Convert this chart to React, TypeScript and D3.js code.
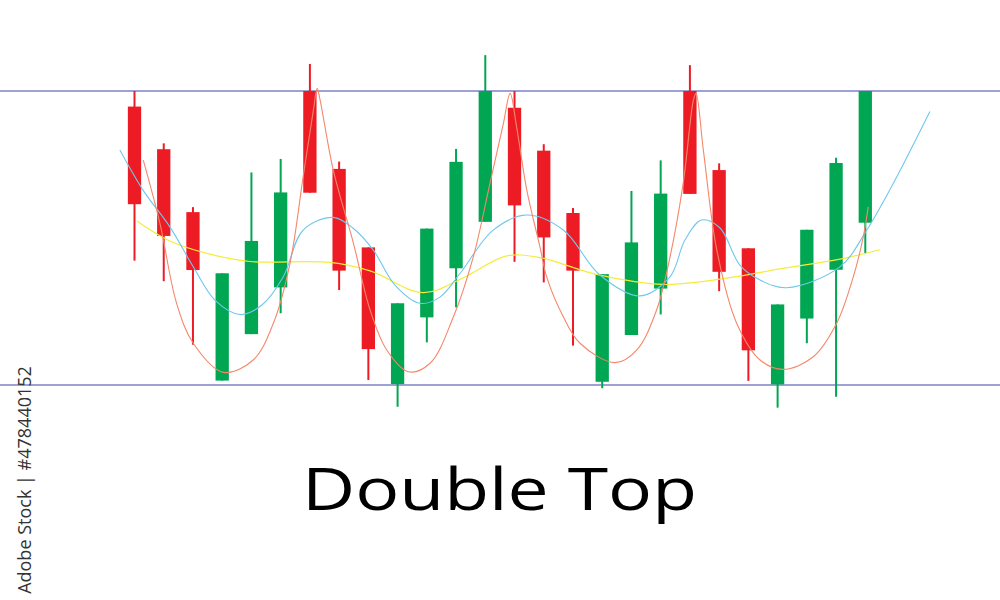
import React from "react";
import * as d3 from "d3";

const W = 1000;
const H = 600;

// Candle data (price units), index = position along the x axis
const opens = [144.7, 130.2, 108.8, 51.5, 67.3, 83.2, 150, 123.5, 96.8, 50.3, 73.0, 89.7, 105.5, 144.3, 129.7, 108.5, 51.1, 67.0, 82.8, 150, 123.1, 96.5, 50.2, 72.6, 89.2, 105.2];
const highs = [150, 132.2, 110.5, 88.0, 122.3, 126.9, 159.2, 126.0, 96.8, 77.8, 103.2, 130.3, 162.2, 150, 131.9, 110.2, 87.7, 116.0, 126.4, 158.8, 125.4, 96.5, 77.4, 102.8, 127.3, 150];
const lows = [92.3, 85.3, 63.7, 51.5, 67.3, 74.4, 115.4, 82.3, 51.7, 42.6, 64.5, 76.4, 105.5, 91.9, 84.9, 63.4, 48.9, 67.0, 74.0, 115.0, 81.9, 51.4, 42.3, 64.2, 46.0, 94.8];
const closes = [111.5, 100.7, 89.1, 88.0, 99.0, 115.5, 115.4, 88.9, 62.2, 77.8, 103.2, 125.9, 150, 111.1, 100.2, 88.9, 87.7, 98.5, 115.1, 115.0, 88.5, 61.8, 77.4, 102.8, 125.5, 150];

// Support / resistance levels
const levels = [150, 50];

// Moving-average style curves: [index position, price]
const orangeCurve: [number, number][] = [
  [0.30, 126.5], [0.87, 105.0], [1.44, 77.8], [2.01, 64.2], [3.04, 54.3], [4.06, 58.5], [4.75, 71.0], [5.32, 91.4], [5.77, 120.9], [6.12, 143.5], [6.25, 150.9],
  [6.35, 146.9], [6.80, 123.1], [7.49, 98.2], [8.06, 75.5], [8.63, 61.9], [9.37, 54.5], [10.11, 57.4], [10.91, 73.2], [11.59, 93.6], [12.16, 118.6], [12.62, 139.0], [12.85, 149.2],
  [13.07, 137.9], [13.42, 116.3], [13.87, 97.0], [14.10, 86.8], [14.67, 73.2], [15.24, 64.2], [16.44, 57.6], [17.18, 61.9], [17.86, 75.5], [18.32, 93.6], [18.77, 118.6], [19.12, 146.9], [19.21, 149.2],
  [19.46, 129.9], [19.92, 95.9], [20.60, 71.0], [21.40, 58.5], [22.19, 55.3], [23.22, 59.6], [24.02, 71.0], [24.59, 86.8], [24.93, 100.4], [25.10, 110.6]
];
const blueCurve: [number, number][] = [
  [-0.50, 129.9], [0.29, 116.3], [1.21, 103.8], [2.01, 90.2], [2.75, 78.9], [3.61, 74.0], [4.36, 77.2], [5.09, 86.8], [5.77, 102.7], [6.80, 107.0],
  [7.47, 103.4], [8.17, 95.9], [8.91, 84.0], [9.77, 77.8], [10.45, 79.9], [11.14, 88.0], [12.27, 102.7], [13.42, 107.8], [14.67, 102.7], [15.92, 87.4],
  [17.29, 80.3], [18.32, 86.8], [18.83, 99.3], [19.40, 106.1], [20.03, 103.4], [20.71, 90.8], [21.40, 85.7], [22.31, 83.1], [24.13, 90.2], [25.05, 102.7], [25.96, 118.6], [27.21, 143.0]
];
const yellowCurve: [number, number][] = [
  [0.08, 105.8], [1.21, 99.0], [2.58, 94.5], [3.95, 92.0], [6.69, 91.7], [8.06, 88.8], [9.88, 81.4], [11.25, 86.5], [12.73, 93.9], [13.87, 93.3],
  [15.81, 87.6], [18.09, 84.2], [20.37, 86.5], [22.08, 89.5], [24.13, 92.8], [25.50, 96.0]
];

const title = "Double Top";
const credit = "Adobe Stock | #478440152";

const RED = "#ed1c24";
const GREEN = "#00a651";

export default function App() {
  const x = d3.scaleLinear().domain([0, 25]).range([134.5, 865.3]);
  const y = d3.scaleLinear().domain([50, 150]).range([385, 91]);
  const step = x(1) - x(0);
  const bodyW = step * 0.455;

  const line = d3
    .line<[number, number]>()
    .x((d) => x(d[0]))
    .y((d) => y(d[1]))
    .curve(d3.curveCatmullRom.alpha(0.5));

  return (
    <svg
      width={W}
      height={H}
      viewBox={`0 0 ${W} ${H}`}
      style={{ position: "absolute", left: 0, top: 0, background: "#ffffff" }}
    >
      <rect x={0} y={0} width={W} height={H} fill="#ffffff" />
      {levels.map((lv, i) => (
        <line key={i} x1={0} x2={W} y1={y(lv)} y2={y(lv)} stroke="#7e82c4" strokeWidth={1.4} />
      ))}
      {opens.map((o, i) => {
        const c = closes[i];
        const up = c >= o;
        const col = up ? GREEN : RED;
        const cx = x(i);
        const top = y(Math.max(o, c));
        const bot = y(Math.min(o, c));
        return (
          <g key={i}>
            <line x1={cx} x2={cx} y1={y(highs[i])} y2={y(lows[i])} stroke={col} strokeWidth={2} />
            <rect x={cx - bodyW / 2} y={top} width={bodyW} height={bot - top} fill={col} />
          </g>
        );
      })}
      <path d={line(yellowCurve) || ""} fill="none" stroke="#f4ec3a" strokeWidth={1.2} />
      <path d={line(blueCurve) || ""} fill="none" stroke="#6ec8ec" strokeWidth={1.1} />
      <path d={line(orangeCurve) || ""} fill="none" stroke="#f5876a" strokeWidth={1.1} />
      <text
        x={302}
        y={510}
        textLength={395}
        lengthAdjust="spacingAndGlyphs"
        fontFamily="'Open Sans', sans-serif"
        fontWeight={500}
        fontSize={58}
        fill="#000000"
      >
        {title}
      </text>
      <text
        transform="translate(31,480) rotate(-90)"
        textAnchor="middle"
        fontFamily="'Open Sans', sans-serif"
        fontSize={18}
        fill="#333333"
      >
        {credit}
      </text>
    </svg>
  );
}
